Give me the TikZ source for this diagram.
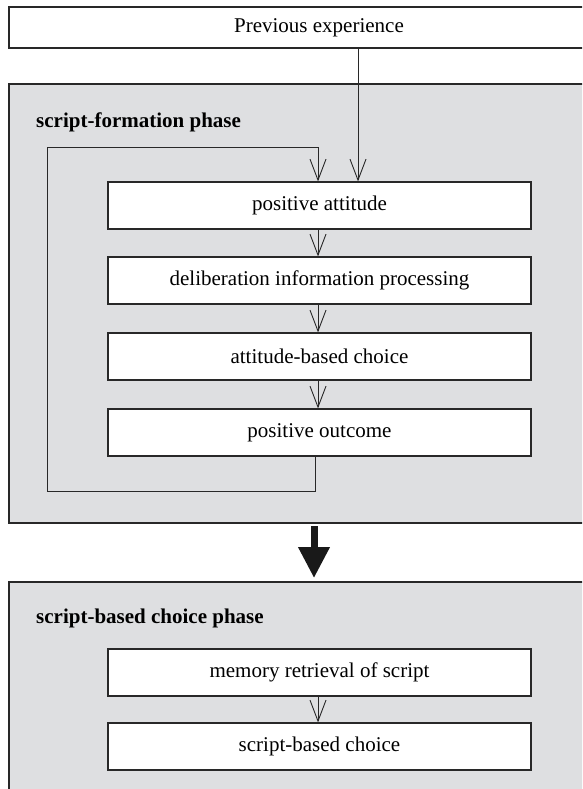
\documentclass[tikz,border=0pt]{standalone}
\usepackage{fontspec}
\setmainfont{Liberation Serif}
\usetikzlibrary{arrows.meta}
\definecolor{panelgray}{RGB}{222,223,225}
\definecolor{edge}{RGB}{40,40,40}
\begin{document}
\begin{tikzpicture}[x=1pt,y=-1pt,
  font=\fontsize{21}{25}\selectfont,
  panel/.style={draw=edge,line width=1.3pt,fill=panelgray},
  stagebox/.style={draw=edge,line width=1.2pt,fill=white,minimum width=423pt,minimum height=47pt,inner sep=0pt},
  topbox/.style={draw=edge,line width=1.2pt,fill=white,minimum width=620pt,minimum height=41pt,inner sep=0pt},
  phasetitle/.style={font=\fontsize{21}{25}\selectfont\bfseries,anchor=west,inner sep=0pt},
  link/.style={draw=edge,line width=0.9pt,-{Straight Barb[length=21pt,width=16pt,line width=0.9pt]}},
  plain/.style={draw=edge,line width=0.9pt},
  bigarrow/.style={draw=black!90,line width=7pt,-{Triangle[length=31pt,width=30pt]}}
]
\useasboundingbox (0,0) rectangle (582,789);
\clip (0,0) rectangle (582,789);
\fill[white] (0,0) rectangle (582,789);

% phase panels
\path[panel] (9,84) rectangle (640,523);
\path[panel] (9,582) rectangle (640,830);
\node[phasetitle] (t1) at (36,122) {script-formation phase};
\node[phasetitle] (t2) at (36,618) {script-based choice phase};

% source box
\node[topbox] (prev) at (319,27.5) {Previous experience};

% script-formation chain
\node[stagebox] (pa) at (319.5,205.5) {positive attitude};
\node[stagebox] (dp) at (319.5,280.5) {deliberation information processing};
\node[stagebox] (ab) at (319.5,356.5) {attitude-based choice};
\node[stagebox] (po) at (319.5,432.5) {positive outcome};

% script-based chain
\node[stagebox] (mr) at (319.5,672.5) {memory retrieval of script};
\node[stagebox] (sb) at (319.5,746.5) {script-based choice};

% arrows along the chains
\draw[link] ([xshift=-1.5pt]pa.south) -- ([xshift=-1.5pt]dp.north);
\draw[link] ([xshift=-1.5pt]dp.south) -- ([xshift=-1.5pt]ab.north);
\draw[link] ([xshift=-1.5pt]ab.south) -- ([xshift=-1.5pt]po.north);
\draw[link] ([xshift=-1.5pt]mr.south) -- ([xshift=-1.5pt]sb.north);

% previous experience feeds the attitude
\draw[link] (prev.south -| 358,0) -- (pa.north -| 358,0);

% feedback loop from outcome back to attitude
\coordinate (fbA) at (315,491);
\coordinate (fbB) at (47,491);
\coordinate (fbC) at (47,147);
\coordinate (fbD) at (318,147);
\draw[plain] (po.south -| fbA) -- (fbA) -- (fbB) -- (fbC) -- (fbD);
\draw[link] (fbD) -- (pa.north -| fbD);

% transition between the phases
\coordinate (bigS) at (314,526);
\coordinate (bigE) at (314,578);
\draw[bigarrow] (bigS) -- (bigE);
\end{tikzpicture}
\end{document}
